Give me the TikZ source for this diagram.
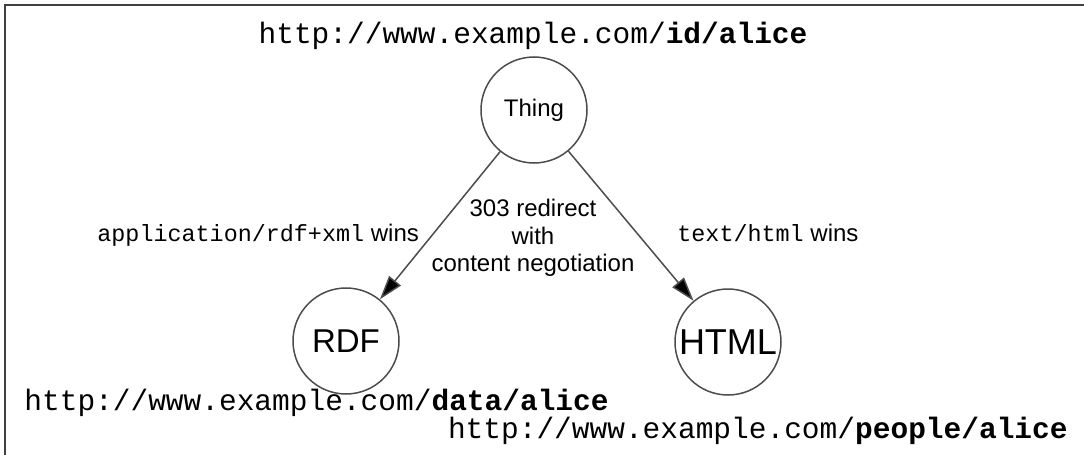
\documentclass[tikz,border=0pt]{standalone}
\usepackage{fontspec}
\setmainfont{Liberation Sans}
\setmonofont{Liberation Mono}
\usetikzlibrary{arrows.meta}
\begin{document}
\begin{tikzpicture}[x=0.5pt,y=-0.5pt,
  circ/.style={circle, draw=black!70, line width=0.75pt, minimum size=53pt, inner sep=0pt},
  url/.style={font=\fontsize{14.75}{17}\ttfamily, inner sep=0pt},
  lbl/.style={font=\fontsize{12}{14}\selectfont, inner sep=0pt},
  mono/.style={font=\fontsize{11.7}{14}\ttfamily},
  conn/.style={draw=black!70, line width=0.75pt, -{Triangle[length=12pt,width=7.5pt,fill=black]}},
  frameline/.style={draw=black!75, line width=1pt}]
\useasboundingbox (0,0) rectangle (1084,455);
\draw[frameline] (5,455) -- (5,5) -- (1084,5);
\node[url, anchor=base] (uid) at (533,43) {http://www.example.com/\textbf{id/alice}};
\node[circ, font=\fontsize{12}{14}\selectfont] (thing) at (534,110) {Thing};
\node[circ, font=\fontsize{16.5}{18}\selectfont] (rdf) at (346,341) {RDF};
\node[circ, font=\fontsize{18}{20}\selectfont] (html) at (728,342) {HTML};
\draw[conn] (thing) -- (rdf);
\draw[conn] (thing) -- (html);
\node[lbl, anchor=base west] (lrdf) at (97,241) {{\fontsize{11.7}{14}\ttfamily application/rdf+xml} wins};
\node[lbl, anchor=base west] (lhtml) at (677,241) {{\fontsize{11.7}{14}\ttfamily text/html} wins};
\node[font=\fontsize{12}{13.75}\selectfont, align=center, inner sep=0pt] (mid) at (533,238) {303 redirect\\with\\content negotiation};
\node[url, anchor=base west] (udata) at (24,410) {http://www.example.com/\textbf{data/alice}};
\node[url, anchor=base east] (upeople) at (1068,438) {http://www.example.com/\textbf{people/alice}};
\end{tikzpicture}
\end{document}
